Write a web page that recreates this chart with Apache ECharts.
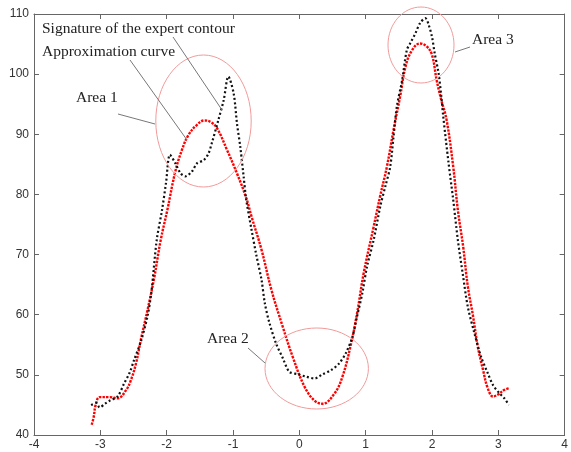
<!DOCTYPE html>
<html>
<head>
<meta charset="utf-8">
<script src="https://cdn.jsdelivr.net/npm/echarts@6/dist/echarts.min.js"></script>
<style>
  html, body { margin: 0; padding: 0; background: #fff; }
  #chart { width: 571px; height: 452px; }
</style>
</head>
<body>
<div id="chart"></div>
<script>
// signature of the expert contour (black dots)
var sigX = [-3.14, -3.06, -3.01, -2.93, -2.86, -2.74, -2.64, -2.56, -2.49, -2.39, -2.29, -2.23,
  -2.15, -2.07, -2.01, -1.95, -1.87, -1.79, -1.72, -1.62, -1.54, -1.44, -1.37, -1.32, -1.22,
  -1.14, -1.07, -0.99, -0.94, -0.89, -0.84, -0.80, -0.72, -0.65, -0.57, -0.52, -0.45, -0.35,
  -0.25, -0.15, -0.02, 0.10, 0.23, 0.35, 0.48, 0.60, 0.70, 0.80, 0.87, 0.95, 1.02, 1.12,
  1.22, 1.30, 1.37, 1.42, 1.47, 1.55, 1.62, 1.67, 1.75, 1.82, 1.90, 1.95, 2.00, 2.04, 2.10,
  2.14, 2.17, 2.25, 2.32, 2.39, 2.47, 2.54, 2.64, 2.74, 2.84, 2.92, 3.02, 3.09, 3.16];
var sigY = [45.0, 45.3, 44.6, 45.2, 45.7, 46.4, 48.6, 50.3, 52.5, 55.5, 59.7, 63.8,
  72.4, 77.4, 81.9, 86.6, 85.2, 83.5, 83.0, 83.8, 85.2, 85.7, 86.8, 88.5, 92.4,
  95.7, 99.6, 96.8, 91.8, 87.9, 83.0, 79.1, 74.1, 70.0, 65.8, 61.9, 58.6, 55.2,
  52.8, 50.5, 50.1, 49.7, 49.4, 50.1, 50.8, 51.9, 53.6, 56.3, 59.7, 63.6, 68.0, 72.4,
  78.0, 81.5, 84.6, 89.6, 94.6, 99.0, 104.0, 105.1, 106.8, 108.5, 109.3, 108.2, 106.2, 103.5, 100.1,
  96.3, 92.9, 85.2, 79.1, 72.4, 66.3, 61.3, 56.9, 53.0, 50.3, 48.3, 46.9, 46.1, 45.0];

// approximation curve (red dots)
var apxX = [-3.13, -3.10, -3.07, -3.01, -2.86, -2.74, -2.61, -2.54, -2.46, -2.39, -2.29, -2.19,
  -2.09, -1.99, -1.87, -1.77, -1.67, -1.55, -1.43, -1.33, -1.24, -1.09, -0.94, -0.80, -0.72,
  -0.57, -0.42, -0.25, -0.10, 0.08, 0.23, 0.35, 0.53, 0.65, 0.77, 0.87, 0.97, 1.12, 1.22,
  1.32, 1.42, 1.52, 1.60, 1.70, 1.82, 1.92, 2.00, 2.07, 2.14, 2.22, 2.32, 2.39, 2.47, 2.54,
  2.62, 2.69, 2.77, 2.84, 2.92, 2.99, 3.09, 3.17];
var apxY = [41.7, 43.0, 45.0, 46.3, 46.3, 46.1, 47.5, 49.1, 52.0, 55.8, 60.7, 66.0,
  72.4, 77.4, 83.8, 87.4, 89.9, 91.5, 92.3, 92.0, 91.0, 87.4, 83.5, 79.4, 76.3,
  70.8, 64.1, 58.0, 53.0, 48.0, 45.7, 45.2, 46.9, 49.7, 54.7, 60.2, 66.9, 74.6, 79.8,
  84.6, 90.7, 96.3, 101.2, 104.0, 105.1, 104.6, 103.2, 99.0, 95.7, 92.4, 84.6, 77.4, 71.3, 64.7,
  59.7, 54.7, 50.8, 47.8, 46.4, 46.7, 47.5, 47.8];

var xTicks = [-4, -3, -2, -1, 0, 1, 2, 3, 4];
var yTicks = [40, 50, 60, 70, 80, 90, 100, 110];

function pairs(xs, ys) {
  return xs.map(function (x, i) { return [x, ys[i]] })
}

var chart = echarts.init(document.getElementById('chart'))

var axisColor = '#666'
var labelStyle = { color: '#333', fontFamily: 'Liberation Sans, Arial', fontSize: 12 }
var noteFont = '15.5px "Liberation Serif", "Times New Roman", serif'

chart.setOption({
  animation: false,
  grid: { left: 34, right: 2, top: 14, bottom: 17 },
  xAxis: [{
    type: 'value', min: xTicks[0], max: xTicks[xTicks.length - 1], interval: 1,
    axisLine: { onZero: false, lineStyle: { color: axisColor } },
    axisTick: { inside: true, length: 5, lineStyle: { color: axisColor } },
    axisLabel: Object.assign({ margin: 4 }, labelStyle),
    splitLine: { show: false }
  }, {
    type: 'value', position: 'top', min: xTicks[0], max: xTicks[xTicks.length - 1], interval: 1,
    axisLine: { onZero: false, lineStyle: { color: axisColor } },
    axisTick: { inside: true, length: 5, lineStyle: { color: axisColor } },
    axisLabel: { show: false },
    splitLine: { show: false }
  }],
  yAxis: [{
    type: 'value', min: yTicks[0], max: yTicks[yTicks.length - 1], interval: 10,
    axisLine: { show: true, onZero: false, lineStyle: { color: axisColor } },
    axisTick: { show: true, inside: true, length: 5, lineStyle: { color: axisColor } },
    axisLabel: Object.assign({ margin: 5 }, labelStyle),
    splitLine: { show: false }
  }, {
    type: 'value', position: 'right', min: yTicks[0], max: yTicks[yTicks.length - 1], interval: 10,
    axisLine: { show: true, onZero: false, lineStyle: { color: axisColor } },
    axisTick: { show: true, inside: true, length: 5, lineStyle: { color: axisColor } },
    axisLabel: { show: false },
    splitLine: { show: false }
  }],
  series: [{
    name: 'Signature of the expert contour',
    type: 'line',
    data: pairs(sigX, sigY),
    smooth: 0.3,
    showSymbol: false,
    lineStyle: { color: '#111', width: 2.2, type: [2, 2.4] },
    z: 3
  }, {
    name: 'Approximation curve',
    type: 'line',
    data: pairs(apxX, apxY),
    smooth: 0.4,
    showSymbol: false,
    lineStyle: { color: '#f00', width: 2.4, type: [2.4, 1.2] },
    z: 2
  }],
  graphic: [
    // circled areas
    { type: 'ellipse', shape: { cx: 203.5, cy: 121, rx: 47.7, ry: 66 }, style: { fill: 'none', stroke: '#f19a9a', lineWidth: 1 }, z: 10 },
    { type: 'ellipse', shape: { cx: 316.7, cy: 368.5, rx: 51.7, ry: 40.5 }, style: { fill: 'none', stroke: '#f19a9a', lineWidth: 1 }, z: 10 },
    { type: 'ellipse', shape: { cx: 421, cy: 45, rx: 33, ry: 38 }, style: { fill: 'none', stroke: '#f19a9a', lineWidth: 1 }, z: 10 },
    // leader lines
    { type: 'line', shape: { x1: 173, y1: 37, x2: 222, y2: 110 }, style: { stroke: '#777', lineWidth: 1 }, z: 10 },
    { type: 'line', shape: { x1: 130, y1: 60, x2: 187, y2: 140 }, style: { stroke: '#777', lineWidth: 1 }, z: 10 },
    { type: 'line', shape: { x1: 118, y1: 114, x2: 155, y2: 124 }, style: { stroke: '#777', lineWidth: 1 }, z: 10 },
    { type: 'line', shape: { x1: 248, y1: 348, x2: 265, y2: 363 }, style: { stroke: '#777', lineWidth: 1 }, z: 10 },
    { type: 'line', shape: { x1: 470, y1: 47, x2: 455, y2: 52 }, style: { stroke: '#777', lineWidth: 1 }, z: 10 },
    // labels
    { type: 'text', left: 42, top: 21, style: { text: 'Signature of the expert contour', font: noteFont, fill: '#222' }, z: 11 },
    { type: 'text', left: 42, top: 44, style: { text: 'Approximation curve', font: noteFont, fill: '#222' }, z: 11 },
    { type: 'text', left: 76, top: 90, style: { text: 'Area 1', font: noteFont, fill: '#222' }, z: 11 },
    { type: 'text', left: 207, top: 331, style: { text: 'Area 2', font: noteFont, fill: '#222' }, z: 11 },
    { type: 'text', left: 472, top: 32, style: { text: 'Area 3', font: noteFont, fill: '#222' }, z: 11 }
  ]
})
</script>
</body>
</html>
